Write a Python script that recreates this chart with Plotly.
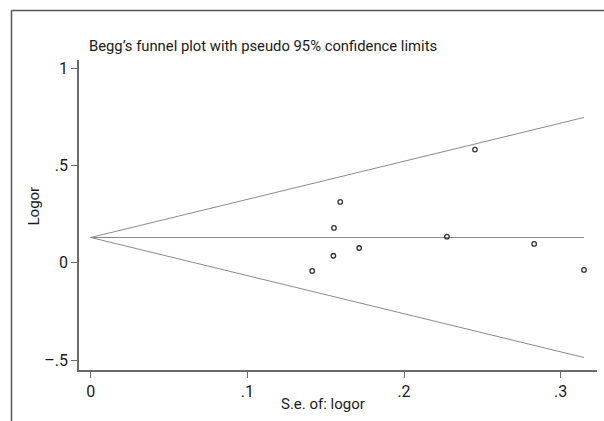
import plotly.graph_objects as go

# Data
se_values = [0.1414, 0.1549, 0.1553, 0.1593, 0.1714, 0.2274, 0.2453, 0.2831, 0.3149]
logor_values = [-0.042, 0.036, 0.179, 0.313, 0.076, 0.134, 0.582, 0.097, -0.037]
pooled_logor = 0.13
z_crit = 1.96

x_tick_vals = [0, 0.1, 0.2, 0.3]
x_tick_text = ["0", ".1", ".2", ".3"]
y_tick_vals = [-0.5, 0, 0.5, 1]
y_tick_text = ["\u2013.5", "0", ".5", "1"]

FONT = "Roboto, Liberation Sans, sans-serif"
AXIS_COLOR = "#6a6a6a"
LINE_COLOR = "#8a8a8a"
TEXT_COLOR = "#1a1a1a"

se_max = max(se_values)
funnel_x = [0, se_max]

fig = go.Figure()
# Pseudo 95% confidence limits
fig.add_trace(go.Scatter(x=funnel_x, y=[pooled_logor + z_crit * s for s in funnel_x],
                         mode="lines", line=dict(color=LINE_COLOR, width=1), hoverinfo="skip"))
fig.add_trace(go.Scatter(x=funnel_x, y=[pooled_logor - z_crit * s for s in funnel_x],
                         mode="lines", line=dict(color=LINE_COLOR, width=1), hoverinfo="skip"))
fig.add_trace(go.Scatter(x=funnel_x, y=[pooled_logor, pooled_logor],
                         mode="lines", line=dict(color=LINE_COLOR, width=1), hoverinfo="skip"))
# Studies
fig.add_trace(go.Scatter(x=se_values, y=logor_values, mode="markers",
                         marker=dict(symbol="circle-open", size=4.5, color="#333333",
                                     line=dict(width=1.3, color="#333333"))))

W, H = 604, 421
L, R, T, B = 79, 7, 60, 51
pw, ph = W - L - R, H - T - B

def px(xp):
    return (xp - L) / pw

def py(yp):
    return (H - B - yp) / ph

fig.update_layout(
    width=W, height=H,
    margin=dict(l=L, r=R, t=T, b=B),
    paper_bgcolor="white", plot_bgcolor="white",
    showlegend=False,
    font=dict(family=FONT, size=16, color=TEXT_COLOR),
    xaxis=dict(range=[-0.00747, 0.3232], tickvals=x_tick_vals, ticktext=x_tick_text,
               showgrid=False, zeroline=False, showline=True, linecolor=AXIS_COLOR, linewidth=1.5,
               ticks="outside", ticklen=6, tickwidth=1.2, tickcolor=AXIS_COLOR,
               tickfont=dict(size=16)),
    yaxis=dict(range=[-0.5514, 1.0427], tickvals=y_tick_vals, ticktext=y_tick_text,
               showgrid=False, zeroline=False, showline=True, linecolor=AXIS_COLOR, linewidth=1.5,
               ticks="outside", ticklen=6, tickwidth=1.2, tickcolor=AXIS_COLOR,
               tickfont=dict(size=16)),
    shapes=[
        dict(type="line", xref="paper", yref="paper", x0=px(11.5), x1=px(11.5), y0=py(10.5), y1=py(425),
             line=dict(color="#555555", width=1.5)),
        dict(type="line", xref="paper", yref="paper", x0=px(11.5), x1=px(606), y0=py(10.5), y1=py(10.5),
             line=dict(color="#555555", width=1.5)),
    ],
    annotations=[
        dict(text="Begg\u2019s funnel plot with pseudo 95% confidence limits", xref="paper", yref="paper",
             x=px(87), y=py(46), xanchor="left", yanchor="middle", showarrow=False,
             font=dict(family=FONT, size=14.8, color=TEXT_COLOR)),
        dict(text="S.e. of: logor", xref="paper", yref="paper",
             x=px(323), y=py(404), xanchor="center", yanchor="middle", showarrow=False,
             font=dict(family=FONT, size=15, color=TEXT_COLOR)),
        dict(text="Logor", xref="paper", yref="paper", textangle=-90,
             x=px(33), y=py(206.5), xanchor="center", yanchor="middle", showarrow=False,
             font=dict(family=FONT, size=15, color=TEXT_COLOR)),
    ],
)

fig.write_html("out.html")
